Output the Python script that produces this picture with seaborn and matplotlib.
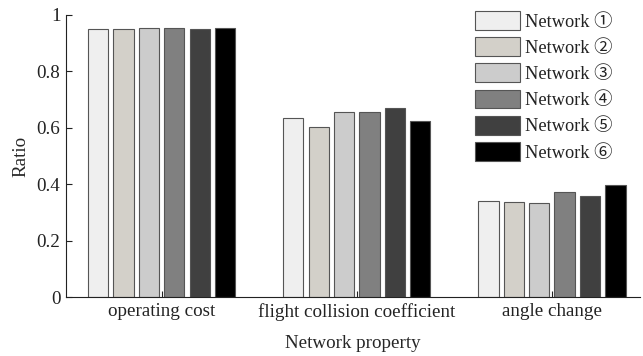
import matplotlib
matplotlib.use("Agg")
import matplotlib.pyplot as plt
import seaborn as sns
import pandas as pd
from matplotlib.ticker import FuncFormatter

categories = ["operating cost", "flight collision coefficient", "angle change"]
networks = ["Network ①", "Network ②", "Network ③", "Network ④", "Network ⑤", "Network ⑥"]
net1 = [0.950, 0.635, 0.340]
net2 = [0.950, 0.603, 0.337]
net3 = [0.953, 0.656, 0.333]
net4 = [0.953, 0.656, 0.372]
net5 = [0.950, 0.670, 0.358]
net6 = [0.953, 0.624, 0.397]
series = [net1, net2, net3, net4, net5, net6]
colors = ["#EFEFEF", "#D5D1C7", "#CCCCCC", "#808080", "#404040", "#000000"]

rows = []
for name, vals in zip(networks, series):
    for c, v in zip(categories, vals):
        rows.append({"property": c, "network": name, "ratio": v})
df = pd.DataFrame(rows)

sns.set_theme(style="white")
plt.rcParams["font.family"] = ["Liberation Serif", "Noto Sans CJK SC", "DejaVu Sans"]

fs = 13.7
lfs = 13.2
fig = plt.figure(figsize=(6.43, 3.56), dpi=100)
ax = fig.add_axes([0.1026, 0.1657, 0.8924, 0.7923])
sns.barplot(data=df, x="property", y="ratio", hue="network", order=categories,
            hue_order=networks, palette=colors, width=0.78, gap=0.2,
            edgecolor="#555555", linewidth=0.8, ax=ax)

ax.set_ylim(0, 1)
ax.set_xlim(-0.49, 2.45)
ax.set_yticks([0, 0.2, 0.4, 0.6, 0.8, 1.0])
ax.yaxis.set_major_formatter(FuncFormatter(lambda v, p: "%g" % round(v, 1)))
ax.set_xlabel("Network property", fontsize=fs, labelpad=10)
ax.set_ylabel("Ratio", fontsize=fs, labelpad=5)
ax.tick_params(axis="both", labelsize=fs, direction="in", length=4, width=0.8,
               colors="#222222", labelcolor="#222222")
ax.tick_params(axis="y", left=True, pad=4)
ax.tick_params(axis="x", bottom=True, pad=4.5)
for s in ["top", "right"]:
    ax.spines[s].set_visible(False)
for s in ["left", "bottom"]:
    ax.spines[s].set_color("#222222")
    ax.spines[s].set_linewidth(0.8)

leg = ax.legend(loc="upper left", bbox_to_anchor=(475 / 643, 1 - 11 / 356),
                bbox_transform=fig.transFigure, frameon=False,
                fontsize=lfs, handlelength=2.45, handleheight=1.2,
                labelspacing=0.36, handletextpad=0.28, borderaxespad=0, borderpad=0)
for t in leg.get_texts():
    t.set_color("#222222")
fig.savefig("out.png", dpi=100)
